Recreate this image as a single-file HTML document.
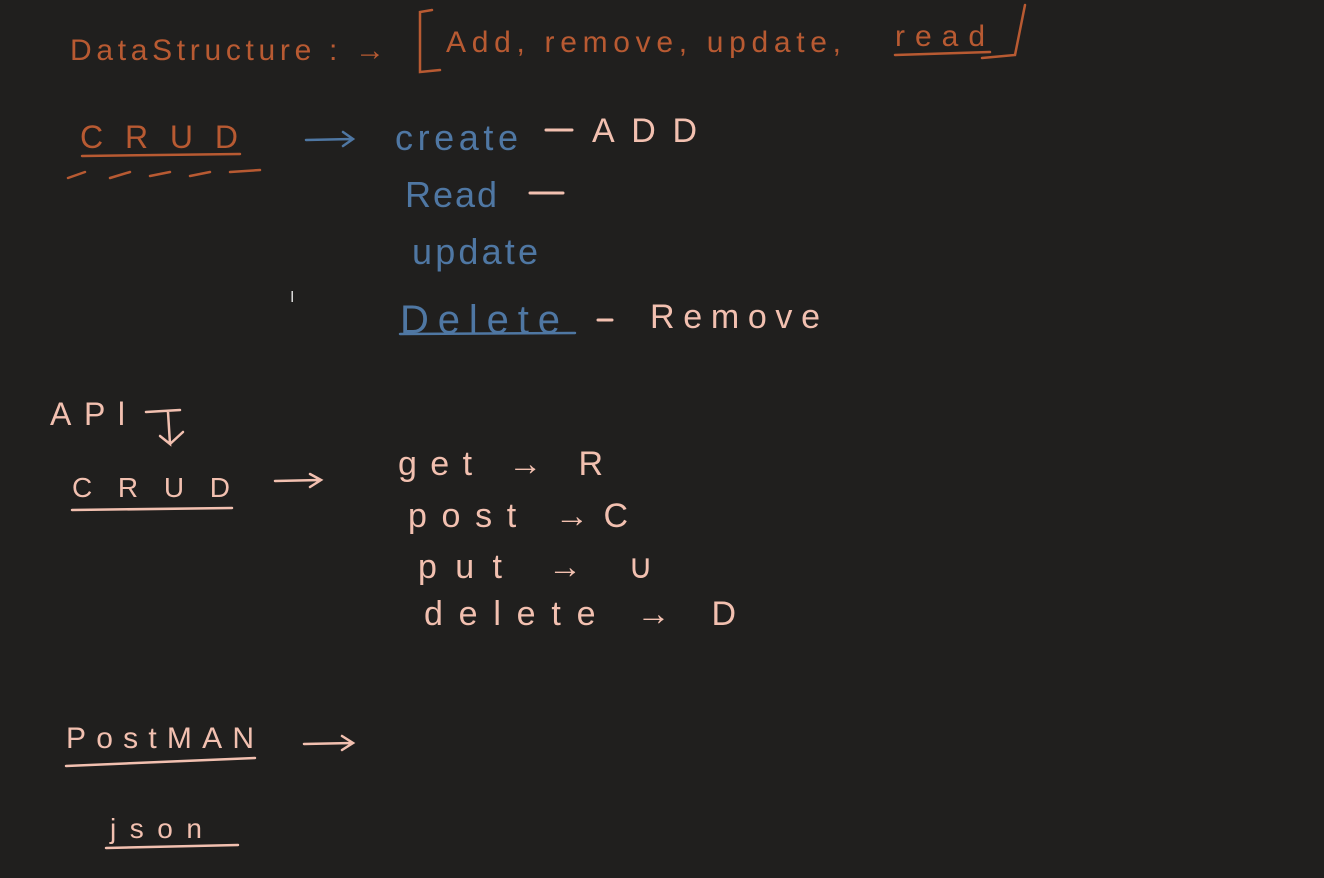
<!DOCTYPE html>
<html><head><meta charset="utf-8"><style>
html,body{margin:0;padding:0;background:#201f1e;width:1324px;height:878px;overflow:hidden}
svg{display:block}
text{font-family:"Liberation Sans",sans-serif}
.o{fill:#b85a32;font-size:30px}
.b{fill:#4f77a3;font-size:36px}
.p{fill:#f2c0b0;font-size:34px}
</style></head><body>
<svg width="1324" height="878" viewBox="0 0 1324 878">
<g fill="none" stroke-linecap="round">
<text class="o" x="70" y="60" textLength="315" lengthAdjust="spacing">DataStructure : →</text>
<path d="M432 10 L420 12 L420 72 L440 70" stroke="#b85a32" stroke-width="2.5"/>
<text class="o" x="446" y="52" textLength="395" lengthAdjust="spacing">Add, remove, update,</text>
<text class="o" x="895" y="46" textLength="90" lengthAdjust="spacing">read</text>
<path d="M895 55 L990 52" stroke="#b85a32" stroke-width="2.5"/>
<path d="M1025 5 L1015 55 L982 58" stroke="#b85a32" stroke-width="2.5"/>
<text class="o" x="80" y="148" style="font-size:32px" textLength="158" lengthAdjust="spacing">CRUD</text>
<path d="M82 156 L240 154" stroke="#b85a32" stroke-width="2.5"/>
<path d="M68 178 L85 172 M110 178 L130 172 M150 176 L170 172 M190 176 L210 172 M230 172 L260 170" stroke="#b85a32" stroke-width="2.5"/>
<path d="M306 140 L352 139 M343 132 L353 139 L343 146" stroke="#4f77a3" stroke-width="2.5"/>
<text class="b" x="395" y="150" textLength="123" lengthAdjust="spacing">create</text>
<path d="M546 130 L572 130" stroke="#f2c0b0" stroke-width="3"/>
<text class="p" x="592" y="142" textLength="105" lengthAdjust="spacing">ADD</text>
<text class="b" x="405" y="207" textLength="92" lengthAdjust="spacing">Read</text>
<path d="M530 193 L563 193" stroke="#f2c0b0" stroke-width="3"/>
<text class="b" x="412" y="264" textLength="126" lengthAdjust="spacing">update</text>
<text class="b" x="400" y="333" style="font-size:40px" textLength="160" lengthAdjust="spacing">Delete</text>
<path d="M400 334 L575 333" stroke="#4f77a3" stroke-width="2.5"/>
<path d="M598 320 L612 320" stroke="#f2c0b0" stroke-width="3"/>
<text class="p" x="650" y="328" textLength="170" lengthAdjust="spacing">Remove</text>
<text class="p" x="50" y="425" style="font-size:32px" textLength="75" lengthAdjust="spacing">APl</text>
<path d="M146 412 L180 410 M168 412 L170 444 L160 436 M170 444 L183 432" stroke="#f2c0b0" stroke-width="2.5"/>
<text class="p" x="72" y="497" style="font-size:28px" textLength="158" lengthAdjust="spacing">CRUD</text>
<path d="M72 510 L232 508" stroke="#f2c0b0" stroke-width="2.5"/>
<path d="M275 481 L320 480 M310 474 L321 480 L310 487" stroke="#f2c0b0" stroke-width="2.5"/>
<text class="p" x="398" y="475" textLength="205" lengthAdjust="spacing">get → R</text>
<text class="p" x="408" y="527" textLength="220" lengthAdjust="spacing">post →C</text>
<text class="p" x="418" y="578" textLength="235" lengthAdjust="spacing">put →  ∪</text>
<text class="p" x="424" y="625" textLength="312" lengthAdjust="spacing">delete → D</text>
<text class="p" x="66" y="748" style="font-size:30px" textLength="188" lengthAdjust="spacing">PostMAN</text>
<path d="M66 766 L255 758" stroke="#f2c0b0" stroke-width="2.5"/>
<path d="M304 744 L352 743 M342 736 L353 743 L342 750" stroke="#f2c0b0" stroke-width="2.5"/>
<text class="p" x="110" y="838" style="font-size:28px" textLength="92" lengthAdjust="spacing">json</text>
<path d="M106 848 L238 845" stroke="#f2c0b0" stroke-width="2.5"/>
<text x="290" y="302" fill="#ddd" style="font-size:16px">I</text>
</g>
</svg>
</body></html>
